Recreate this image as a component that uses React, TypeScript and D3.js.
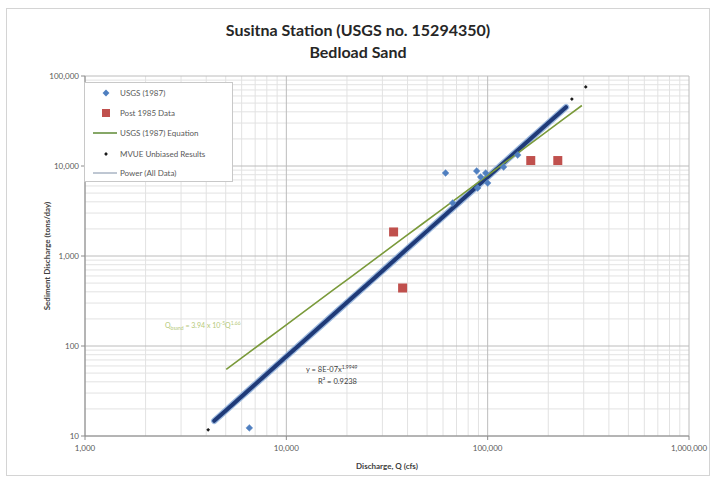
import React from "react";
import * as d3 from "d3";

// ---- data ----
const titleLines = ["Susitna Station (USGS no. 15294350)", "Bedload Sand"];
const xTickValues = [1000, 10000, 100000, 1000000];
const yTickValues = [10, 100, 1000, 10000, 100000];

// USGS (1987) measurements: discharge (cfs) and bedload sand (tons/day)
const usgs1987Q = [6550, 61800, 88200, 92300, 97800, 100000, 89200, 67000, 120000, 141000];
const usgs1987S = [12.3, 8360, 8800, 7550, 8360, 6470, 5700, 3880, 9750, 13250];

// Post 1985 measurements
const post1985Q = [34100, 37800, 163700, 223000];
const post1985S = [1850, 441, 11500, 11500];

// MVUE unbiased results
const mvueQ = [4090, 262000, 307000];
const mvueS = [11.7, 55500, 75500];

// USGS (1987) rating equation Qbs = a * Q^b
const usgsEqA = 3.94e-5;
const usgsEqB = 1.66;
const usgsEqRange = [5030, 293700];

// Power trendline fitted to all data
const powerA = 8e-7;
const powerB = 1.9949;
const powerR2 = 0.9238;
const powerRange = [4385, 245000];

const legendLabels = [
  "USGS (1987)",
  "Post 1985 Data",
  "USGS (1987) Equation",
  "MVUE Unbiased Results",
  "Power (All Data)",
];

const W = 717;
const H = 482;
const M = { left: 85, right: 689, top: 76, bottom: 436 };
const FONT = "Lato, 'Open Sans', sans-serif";

export default function App() {
  const x = d3.scaleLog().domain([1000, 1e6]).range([M.left, M.right]);
  const y = d3.scaleLog().domain([10, 1e5]).range([M.bottom, M.top]);
  const fmt = d3.format(",");

  const minorX: number[] = [];
  for (let d = 1000; d < 1e6; d *= 10) for (let k = 2; k <= 9; k++) minorX.push(d * k);
  const minorY: number[] = [];
  for (let d = 10; d < 1e5; d *= 10) for (let k = 2; k <= 9; k++) minorY.push(d * k);

  const curve = (a: number, b: number, range: number[]) => {
    const qs = d3.range(0, 21).map((i) => range[0] * Math.pow(range[1] / range[0], i / 20));
    return d3
      .line<number>()
      .x((q) => x(q))
      .y((q) => y(a * Math.pow(q, b)))(qs) as string;
  };

  const usgsPath = curve(usgsEqA, usgsEqB, usgsEqRange);
  const powerPath = curve(powerA, powerB, powerRange);

  const diamond = d3.symbol(d3.symbolDiamond2, 30)() as string;
  const dot = d3.symbol(d3.symbolDiamond2, 9)() as string;

  const legendX = 84;
  const legendY = 82;
  const legendRows = [93, 113, 133, 154, 173];

  return (
    <div style={{ position: "fixed", left: 0, top: 0 }}>
      <svg width={W} height={H} style={{ display: "block", fontFamily: FONT }}>
        <rect x={0} y={0} width={W} height={H} fill="#ffffff" />
        <rect x={6.5} y={8.5} width={703} height={467} fill="#ffffff" stroke="#d4d4d4" />

        {/* title */}
        <text x={358} y={36} textAnchor="middle" fontSize={16} fontWeight="bold" fill="#262626">
          {titleLines[0]}
        </text>
        <text x={358} y={58} textAnchor="middle" fontSize={16} fontWeight="bold" fill="#262626">
          {titleLines[1]}
        </text>

        {/* minor grid */}
        {minorX.map((v) => (
          <line key={"mx" + v} x1={x(v)} x2={x(v)} y1={M.top} y2={M.bottom} stroke="#e2e2e2" strokeWidth={1} />
        ))}
        {minorY.map((v) => (
          <line key={"my" + v} x1={M.left} x2={M.right} y1={y(v)} y2={y(v)} stroke="#e2e2e2" strokeWidth={1} />
        ))}
        {/* major grid */}
        {xTickValues.map((v) => (
          <line key={"gx" + v} x1={x(v)} x2={x(v)} y1={M.top} y2={M.bottom} stroke="#bcbcbc" strokeWidth={1} />
        ))}
        {yTickValues.map((v) => (
          <line key={"gy" + v} x1={M.left} x2={M.right} y1={y(v)} y2={y(v)} stroke="#bcbcbc" strokeWidth={1} />
        ))}

        {/* axes */}
        <line x1={M.left} x2={M.left} y1={M.top} y2={M.bottom} stroke="#8c8c8c" />
        <line x1={M.left} x2={M.right} y1={M.bottom} y2={M.bottom} stroke="#8c8c8c" />
        {yTickValues.map((v) => (
          <g key={"ty" + v}>
            <line x1={M.left - 4} x2={M.left} y1={y(v)} y2={y(v)} stroke="#8c8c8c" />
            <text x={M.left - 6} y={y(v) + 3} textAnchor="end" fontSize={8} fill="#595959">
              {fmt(v)}
            </text>
          </g>
        ))}
        {xTickValues.map((v) => (
          <g key={"tx" + v}>
            <line x1={x(v)} x2={x(v)} y1={M.bottom} y2={M.bottom + 4} stroke="#8c8c8c" />
            <text x={x(v)} y={M.bottom + 15} textAnchor="middle" fontSize={8} fill="#595959">
              {fmt(v)}
            </text>
          </g>
        ))}
        <text x={387} y={469} textAnchor="middle" fontSize={8} fontWeight="bold" fill="#404040">
          Discharge, Q (cfs)
        </text>
        <text
          transform={`translate(50,${(M.top + M.bottom) / 2}) rotate(-90)`}
          textAnchor="middle"
          fontSize={8}
          fontWeight="bold"
          fill="#404040"
        >
          Sediment Discharge (tons/day)
        </text>

        {/* power trendline over all data */}
        <path d={powerPath} fill="none" stroke="#9bb8de" strokeWidth={6.5} strokeLinecap="round" />
        <path d={powerPath} fill="none" stroke="#1f3a78" strokeWidth={4} strokeLinecap="round" />

        {/* USGS (1987) equation */}
        <path d={usgsPath} fill="none" stroke="#7a9a3a" strokeWidth={1.6} />

        {/* USGS (1987) points */}
        {usgs1987Q.map((q, i) => (
          <path key={"u" + i} d={diamond} transform={`translate(${x(q)},${y(usgs1987S[i])})`} fill="#4f7fc0" stroke="#6d93c9" strokeWidth={0.5} />
        ))}
        {/* Post 1985 points */}
        {post1985Q.map((q, i) => {
          const s = 9;
          return (
            <rect key={"p" + i} x={x(q) - s / 2} y={y(post1985S[i]) - s / 2} width={s} height={s} fill="#c0504d" />
          );
        })}
        {/* MVUE points */}
        {mvueQ.map((q, i) => (
          <path key={"m" + i} d={dot} transform={`translate(${x(q)},${y(mvueS[i])})`} fill="#1a1a1a" />
        ))}

        {/* equation labels */}
        <text x={165} y={328} fontSize={7} fill="#b5c97a">
          Q
          <tspan fontSize={5} dy={2}>bsand</tspan>
          <tspan dy={-2}> = 3.94 x 10</tspan>
          <tspan fontSize={5} dy={-3}>-5</tspan>
          <tspan dy={3}>Q</tspan>
          <tspan fontSize={5} dy={-3}>1.66</tspan>
        </text>
        <text x={306} y={372} fontSize={7.5} fill="#404040">
          y = 8E-07x
          <tspan fontSize={5} dy={-3}>1.9949</tspan>
        </text>
        <text x={318} y={384} fontSize={7.5} fill="#404040">
          R² = {powerR2}
        </text>

        {/* legend */}
        <rect x={legendX + 0.5} y={legendY + 0.5} width={148} height={99} fill="#ffffff" stroke="#c8c8c8" />
        {legendLabels.map((label, i) => {
          const cy = legendRows[i];
          let marker: React.ReactNode = null;
          if (i === 0)
            marker = <path d={diamond} transform={`translate(106,${cy})`} fill="#4f7fc0" />;
          else if (i === 1) marker = <rect x={102} y={cy - 4} width={8} height={8} fill="#c0504d" />;
          else if (i === 2) marker = <line x1={93} x2={117} y1={cy} y2={cy} stroke="#5e8a34" strokeWidth={1.5} />;
          else if (i === 3) marker = <path d={dot} transform={`translate(106,${cy})`} fill="#1a1a1a" />;
          else marker = <line x1={93} x2={117} y1={cy} y2={cy} stroke="#7f8fa6" strokeWidth={1} />;
          return (
            <g key={label}>
              {marker}
              <text x={120} y={cy + 3} fontSize={8} fill="#595959">
                {label}
              </text>
            </g>
          );
        })}
      </svg>
    </div>
  );
}
